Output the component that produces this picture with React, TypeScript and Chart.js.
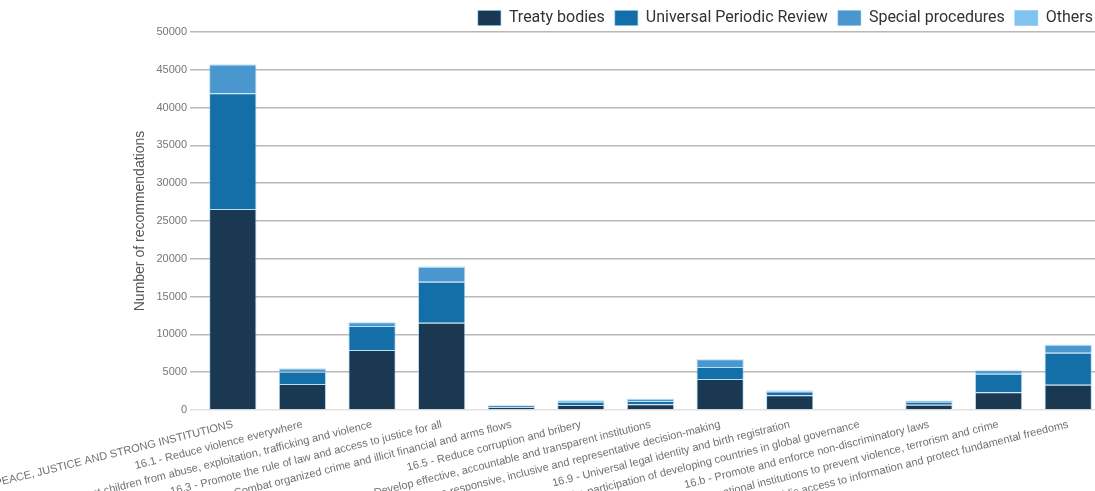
import React, { useEffect, useRef } from "react";
import { Chart, registerables } from "chart.js";

Chart.register(...registerables);

const categories = [
  "16 - PEACE, JUSTICE AND STRONG INSTITUTIONS",
  "16.1 - Reduce violence everywhere",
  "16.2 - Protect children from abuse, exploitation, trafficking and violence",
  "16.3 - Promote the rule of law and access to justice for all",
  "16.4 - Combat organized crime and illicit financial and arms flows",
  "16.5 - Reduce corruption and bribery",
  "16.6 - Develop effective, accountable and transparent institutions",
  "16.7 - Ensure responsive, inclusive and representative decision-making",
  "16.9 - Universal legal identity and birth registration",
  "16.8 - Strengthen the participation of developing countries in global governance",
  "16.b - Promote and enforce non-discriminatory laws",
  "16.a - Strengthen national institutions to prevent violence, terrorism and crime",
  "16.10 - Ensure public access to information and protect fundamental freedoms",
];

const treatyBodies = [26600, 3450, 7950, 11550, 400, 650, 770, 4100, 1950, 0, 700, 2350, 3350];
const universalPeriodicReview = [15300, 1600, 3150, 5400, 200, 450, 430, 1600, 500, 0, 400, 2450, 4230];
const specialProcedures = [3800, 450, 500, 2000, 50, 200, 300, 1000, 150, 0, 150, 450, 1060];
const others = [80, 40, 60, 60, 20, 20, 20, 40, 20, 0, 20, 30, 40];

const yTicks = [0, 5000, 10000, 15000, 20000, 25000, 30000, 35000, 40000, 45000, 50000];

const seriesNames = ["Treaty bodies", "Universal Periodic Review", "Special procedures", "Others"];
const seriesColors = ["#1a3852", "#146fa8", "#4a96cf", "#7fc3f0"];

export default function App() {
  const canvasRef = useRef<HTMLCanvasElement | null>(null);

  useEffect(() => {
    const canvas = canvasRef.current;
    if (!canvas) return;
    const seriesData = [treatyBodies, universalPeriodicReview, specialProcedures, others];
    const chart = new Chart(canvas, {
      type: "bar",
      data: {
        labels: categories,
        datasets: seriesNames.map((name, i) => ({
          label: name,
          data: seriesData[i],
          backgroundColor: seriesColors[i],
          borderColor: "rgba(127,195,240,0.55)",
          borderWidth: 1,
          categoryPercentage: 0.8,
          barPercentage: 0.85,
        })),
      },
      options: {
        animation: false,
        responsive: true,
        maintainAspectRatio: false,
        layout: { padding: { left: 128, right: 7, top: 0, bottom: 0 } },
        plugins: {
          legend: {
            position: "top",
            align: "end",
            labels: {
              boxWidth: 23,
              boxHeight: 15,
              padding: 10,
              color: "#333",
              font: { family: "Roboto", size: 16 },
            },
          },
          tooltip: { enabled: false },
        },
        scales: {
          x: {
            stacked: true,
            grid: { display: false },
            border: { display: false },
            ticks: {
              autoSkip: false,
              minRotation: 14,
              maxRotation: 14,
              labelOffset: 0,
              padding: 0,
              color: "#707070",
              font: { family: "Liberation Sans", size: 11 },
            },
            afterFit: (scale: any) => {
              scale.height = 81;
              scale.paddingLeft = 0;
              scale.paddingRight = 0;
            },
          },
          y: {
            stacked: true,
            min: 0,
            max: 50000,
            border: { display: false },
            afterBuildTicks: (scale: any) => {
              scale.ticks = yTicks.map((v) => ({ value: v }));
            },
            afterFit: (scale: any) => {
              scale.width = 70;
            },
            grid: {
              color: (ctx: any) => (ctx.tick && ctx.tick.value === 0 ? "#e2e2e2" : "#b8b8b8"),
              lineWidth: 1.5,
              tickLength: 8,
            },
            ticks: {
              padding: 3,
              color: "#777",
              font: { family: "Liberation Sans", size: 11 },
              callback: (v: any) => String(v),
            },
            title: {
              display: true,
              text: "Number of recommendations",
              color: "#555",
              font: { family: "Liberation Sans", size: 14 },
              padding: { top: 4, bottom: 4 },
            },
          },
        },
      },
    });
    const legend: any = (chart as any).legend;
    if (legend) {
      const origFit = legend.fit.bind(legend);
      legend.fit = function () {
        origFit();
        this.height = 32;
      };
      chart.update();
    }
    return () => chart.destroy();
  }, []);

  return (
    <div style={{ position: "fixed", left: 0, top: 0, width: 1095, height: 491, overflow: "hidden", background: "#fff" }}>
      <div style={{ position: "relative", width: 1110, height: 491 }}>
        <canvas ref={canvasRef} />
      </div>
    </div>
  );
}
